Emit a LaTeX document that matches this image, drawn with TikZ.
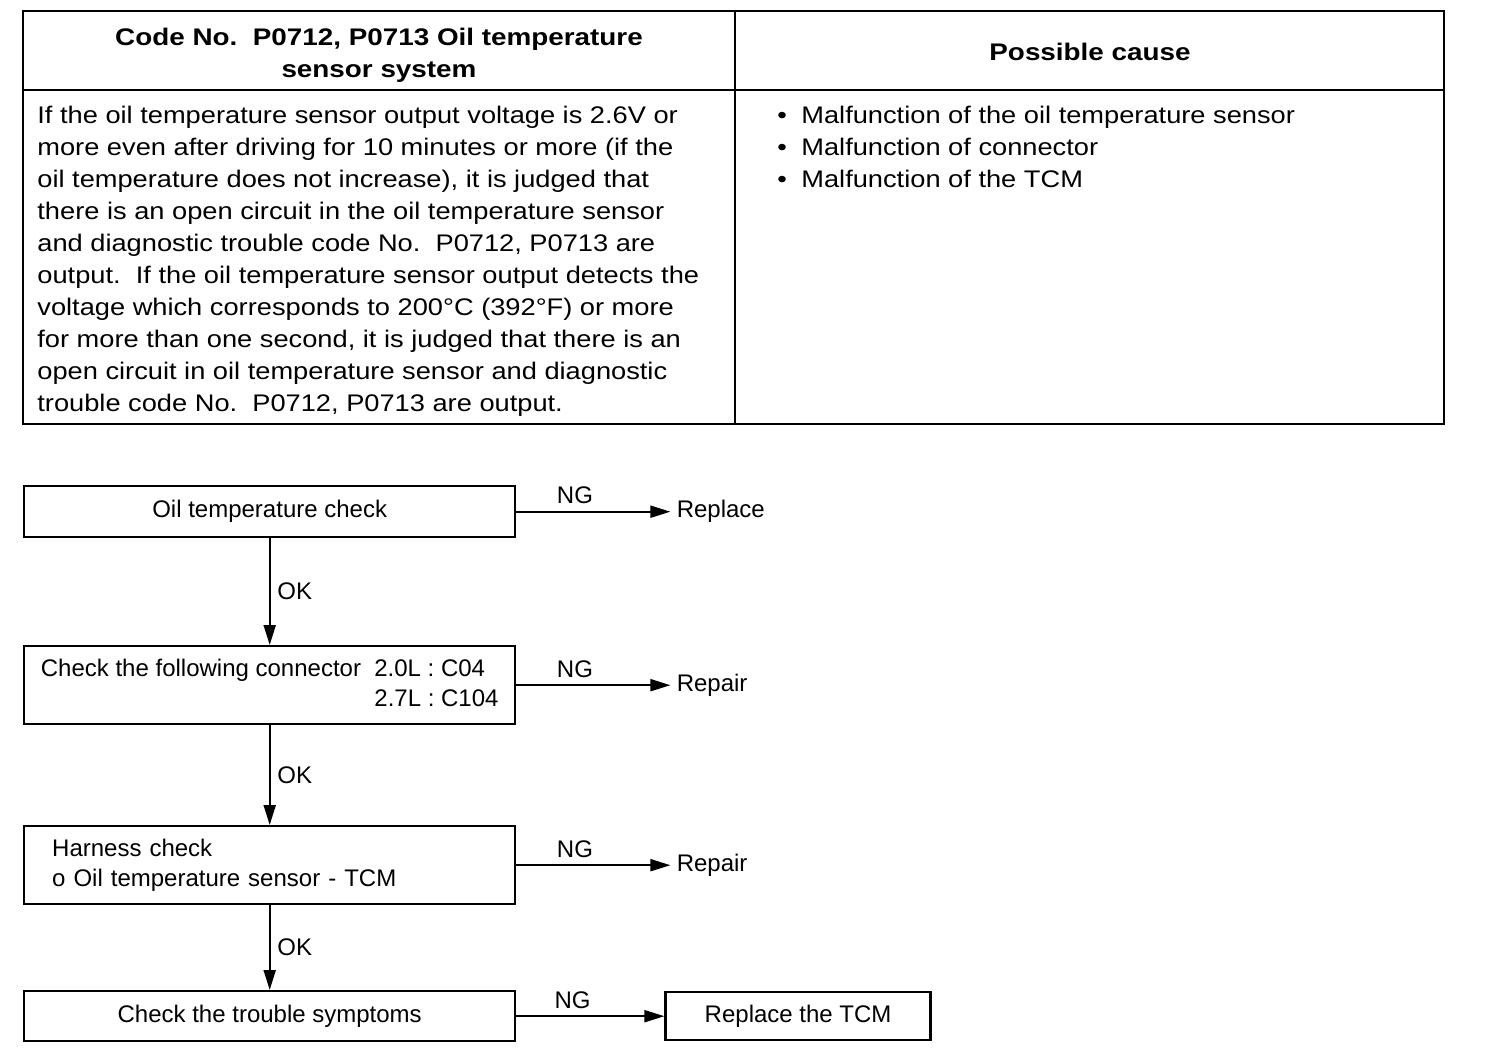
\documentclass[tikz,border=0pt]{standalone}
\usepackage{fontspec}
\setmainfont{Liberation Sans}
\newfontfamily\widefont[FakeStretch=1.135]{Liberation Sans}
\newfontfamily\headfont[FakeStretch=1.16]{Liberation Sans}
\usetikzlibrary{arrows.meta,positioning}
\newcommand{\txtsize}{\fontsize{12pt}{16pt}\selectfont}
\newcommand{\boxsize}{\fontsize{12pt}{15pt}\selectfont}
\newcommand{\bul}{\makebox[12pt][l]{\textbullet}}
\tikzset{frame/.style={line width=1.3pt},
  head/.style={font=\txtsize\headfont\bfseries,align=center,inner sep=0pt},
  body/.style={font=\txtsize\widefont,align=left,inner sep=0pt,anchor=north west},
  box/.style={draw,line width=1.2pt,minimum width=245.5pt,inner sep=0pt,
  font=\boxsize,anchor=north west},
  lbl/.style={font=\boxsize},
  target/.style={font=\boxsize,inner xsep=3pt},
  arrow/.style={-{Triangle[length=10pt,width=6pt]},line width=1pt}}
\begin{document}
\begin{tikzpicture}[x=0.5pt,y=-0.5pt]
\useasboundingbox (0,0) rectangle (1504,1058);
% table
\draw[frame] (23,11) rectangle (1444,424);
\draw[frame] (23,90) -- (1444,90);
\draw[frame] (735,11) -- (735,424);
\node[head] (codehead) at (379,55) {Code No.\ \ P0712, P0713 Oil temperature\\sensor system};
\node[head] (causehead) at (1090,52) {Possible cause};
\node[body] (cond) at (37,106) {If the oil temperature sensor output voltage is 2.6V or\\
more even after driving for 10 minutes or more (if the\\
oil temperature does not increase), it is judged that\\
there is an open circuit in the oil temperature sensor\\
and diagnostic trouble code No.\ \ P0712, P0713 are\\
output.\ \ If the oil temperature sensor output detects the\\
voltage which corresponds to 200°C (392°F) or more\\
for more than one second, it is judged that there is an\\
open circuit in oil temperature sensor and diagnostic\\
trouble code No.\ \ P0712, P0713 are output.};
\node[body] (causes) at (777,106) {\bul Malfunction of the oil temperature sensor\\
\bul Malfunction of connector\\
\bul Malfunction of the TCM};
% flow
\node[box,minimum height=25.5pt] (oilchk) at (23,485) {Oil temperature check};
\node[box,minimum height=39pt] (connchk) at (23,645)
  {\begin{tabular}{@{}l@{\ \ }l@{}}Check the following connector&2.0L : C04\\&2.7L : C104\end{tabular}};
\node[box,minimum height=39pt,text width=217.5pt,inner xsep=14pt,align=left] (harness) at (23,825)
  {Harness check\\o Oil temperature sensor - TCM};
\node[box,minimum height=25pt] (symptom) at (23,990) {Check the trouble symptoms};
\node[target,right=77pt of oilchk] (replace) {Replace};
\node[target,right=77pt of connchk] (repair1) {Repair};
\node[target,right=77pt of harness] (repair2) {Repair};
\node[box,anchor=west,minimum width=132.5pt,minimum height=24pt,right=74pt of symptom] (tcm) {Replace the TCM};
\draw[arrow] (oilchk) -- node[lbl,pos=0.38,above] {NG} (replace);
\draw[arrow] (connchk) -- node[lbl,pos=0.38,above] {NG} (repair1);
\draw[arrow] (harness) -- node[lbl,pos=0.38,above] {NG} (repair2);
\draw[arrow] (symptom) -- node[lbl,pos=0.38,above] {NG} (tcm);
\draw[arrow] (oilchk) -- node[lbl,right] {OK} (connchk);
\draw[arrow] (connchk) -- node[lbl,right] {OK} (harness);
\draw[arrow] (harness) -- node[lbl,right] {OK} (symptom);
\end{tikzpicture}
\end{document}
